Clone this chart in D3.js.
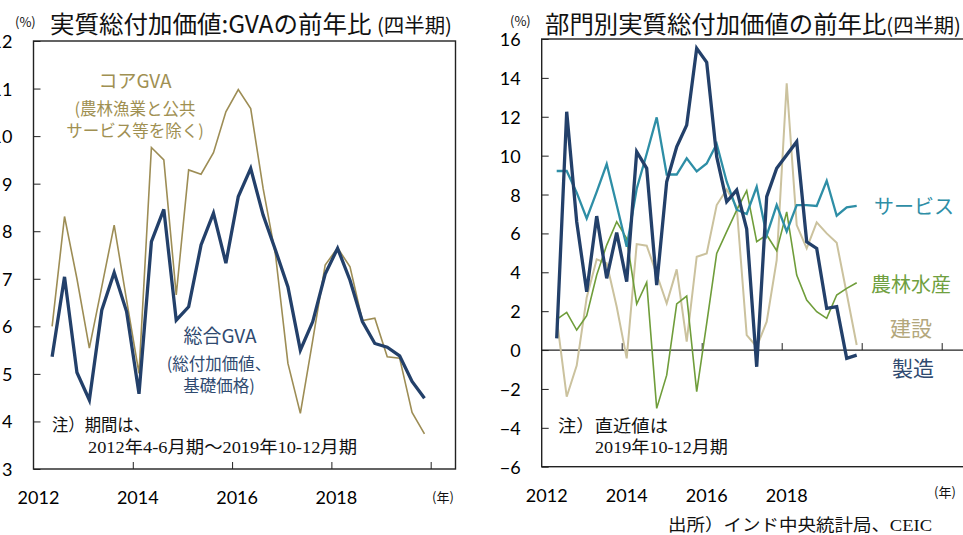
<!DOCTYPE html>
<html lang="ja">
<head>
<meta charset="utf-8">
<title>India GVA</title>
<script src="https://cdn.jsdelivr.net/npm/d3@7"></script>
<style>
  body { margin: 0; background: #fff; }
  svg { display: block; }
</style>
</head>
<body>
<script>
// data: 2012Q2 .. 2019Q4
var quarters = ["2012Q2","2012Q3","2012Q4",
  "2013Q1","2013Q2","2013Q3","2013Q4",
  "2014Q1","2014Q2","2014Q3","2014Q4",
  "2015Q1","2015Q2","2015Q3","2015Q4",
  "2016Q1","2016Q2","2016Q3","2016Q4",
  "2017Q1","2017Q2","2017Q3","2017Q4",
  "2018Q1","2018Q2","2018Q3","2018Q4",
  "2019Q1","2019Q2","2019Q3","2019Q4"];

// left panel
var gvaTotal = [5.36, 7.04, 5.03, 4.45, 6.34, 7.13, 6.31, 4.58, 7.78, 8.46, 6.13, 6.41, 7.71, 8.38, 7.33, 8.73,
  9.32, 8.34, 7.6, 6.83, 5.5, 6.1, 7.1, 7.64, 6.97, 6.1, 5.64, 5.56, 5.38, 4.84, 4.49];
var gvaCore = [6.0, 8.31, 7.0, 5.54, 6.83, 8.13, 6.55, 5.01, 9.76, 9.5, 6.66, 9.29, 9.2, 9.65, 10.51, 10.98,
  10.58, 8.9, 7.5, 5.22, 4.17, 5.71, 7.29, 7.65, 7.25, 6.12, 6.17, 5.36, 5.33, 4.19, 3.74];

// right panel
var manufacturing = [0.6, 12.26, 6.6, 3.0, 6.89, 3.69, 6.04, 3.52, 10.2, 9.35, 3.34, 8.66, 10.46, 11.57, 15.52, 14.8,
  9.94, 7.63, 8.23, 6.22, -0.86, 7.89, 9.35, 10.03, 10.72, 5.57, 5.23, 2.14, 2.23, -0.43, -0.26];
var services = [9.21, 9.21, 8.1, 6.77, 8.14, 9.57, 7.46, 5.31, 8.3, 10.1, 11.97, 9.03, 9.03, 9.86, 9.19, 9.6,
  10.6, 8.66, 7.22, 7.0, 8.4, 5.9, 7.46, 6.1, 7.46, 7.46, 7.41, 8.71, 6.91, 7.34, 7.42];
var agriculture = [1.58, 1.94, 1.03, 1.77, 3.86, 5.4, 6.6, 5.74, 2.37, 3.48, -3.0, -1.29, 2.37, 2.78, -2.14, 1.37,
  4.97, 6.09, 7.2, 8.2, 5.57, 5.92, 5.11, 7.11, 3.86, 2.57, 1.97, 1.63, 2.83, 3.17, 3.46];
var construction = [1.63, -2.4, -0.8, 2.7, 4.67, 4.46, 2.23, -0.43, 5.45, 5.37, 3.9, 2.4, 4.15, 0.43, 4.8, 4.97,
  7.46, 8.26, 7.37, 0.77, 0.17, 1.46, 4.63, 13.72, 6.43, 5.23, 6.57, 6.0, 5.52, 2.91, 0.26];

var leftTicksY = [3, 4, 5, 6, 7, 8, 9, 10, 11, 12];
var rightTicksY = [-6, -4, -2, 0, 2, 4, 6, 8, 10, 12, 14, 16];
var yearLabels = [2012, 2014, 2016, 2018];

var navy = "#23406a", olive = "#9d8d55", teal = "#2e8ea6", green = "#6f9d3a", beige = "#cbc29e";
var jp = "'Noto Sans CJK JP', sans-serif";
var num = "Lato, 'Noto Sans', sans-serif";
var serif = "'Liberation Serif', 'Noto Sans CJK JP', serif";

// quarter -> decimal year at middle of quarter
function qx(s) {
  var y = +s.slice(0, 4), q = +s.slice(5);
  return y + (q - 0.5) / 4;
}

var svg = d3.select("body").append("svg")
  .attr("width", 963).attr("height", 535);

svg.append("rect").attr("width", 963).attr("height", 535).attr("fill", "#fff");

function panel(opt) {
  var x = d3.scaleLinear().domain(opt.xDomain).range(opt.xRange);
  var y = d3.scaleLinear().domain(opt.yDomain).range(opt.yRange);
  var g = svg.append("g");

  // y axis, inward ticks
  var ya = g.append("g")
    .attr("transform", "translate(" + opt.xRange[0] + ",0)")
    .call(d3.axisLeft(y).tickValues(opt.yTicks).tickSizeInner(-7).tickSizeOuter(0).tickPadding(21));
  ya.select(".domain").remove();
  ya.selectAll("line").attr("stroke", "#222");
  ya.selectAll("text").attr("font-family", num).attr("font-size", 18).attr("fill", "#000")
    .attr("dy", "0.36em");

  // x ticks, upward
  var xa = g.append("g")
    .attr("transform", "translate(0," + y(opt.xTickBase) + ")")
    .call(d3.axisBottom(x).tickValues(opt.xTicks).tickSizeInner(-7).tickSizeOuter(0).tickFormat(""));
  xa.select(".domain").remove();
  xa.selectAll("line").attr("stroke", "#222");

  if (opt.zeroLine) {
    g.append("line")
      .attr("x1", opt.xRange[0]).attr("x2", opt.xRange[1])
      .attr("y1", y(0)).attr("y2", y(0))
      .attr("stroke", "#222").attr("stroke-width", 1.3);
  }

  // year labels
  g.selectAll(".yr").data(yearLabels).enter().append("text")
    .attr("x", function(d) { return x(d) + 5; })
    .attr("y", opt.yearY)
    .attr("text-anchor", "middle")
    .attr("font-family", num).attr("font-size", 18).attr("fill", "#000")
    .text(function(d) { return d; });

  var line = d3.line()
    .x(function(d, i) { return x(qx(quarters[i])); })
    .y(function(d) { return y(d); });

  opt.series.forEach(function(s) {
    g.append("path").datum(s.values)
      .attr("d", line)
      .attr("fill", "none")
      .attr("stroke", s.color)
      .attr("stroke-width", s.width)
      .attr("stroke-linejoin", "miter");
  });

  // frame
  g.append("rect")
    .attr("x", opt.xRange[0]).attr("y", opt.yRange[1])
    .attr("width", opt.xRange[1] - opt.xRange[0])
    .attr("height", opt.yRange[0] - opt.yRange[1])
    .attr("fill", "none").attr("stroke", "#222").attr("stroke-width", 1.4);

  return g;
}

panel({
  xDomain: [2012, 2020.5], xRange: [33.5, 455.5],
  yDomain: [3, 12], yRange: [469, 41],
  yTicks: leftTicksY, xTicks: [2014, 2016, 2018, 2020], xTickBase: 3,
  yearY: 504,
  series: [
    { values: gvaCore, color: olive, width: 1.6 },
    { values: gvaTotal, color: navy, width: 3.3 }
  ]
});

panel({
  xDomain: [2012, 2022.6], xRange: [541.7, 965.7],
  yDomain: [-6, 16], yRange: [466.7, 39],
  yTicks: rightTicksY, xTicks: [2014, 2016, 2018, 2020, 2022], xTickBase: 0,
  zeroLine: true,
  yearY: 502,
  series: [
    { values: construction, color: beige, width: 2 },
    { values: agriculture, color: green, width: 1.6 },
    { values: services, color: teal, width: 2.3 },
    { values: manufacturing, color: navy, width: 3.3 }
  ]
});

// titles
function title(xp, main, sub, len) {
  var t = svg.append("text").attr("x", xp).attr("y", 33)
    .attr("font-family", jp).attr("fill", "#111")
    .attr("textLength", len).attr("lengthAdjust", "spacingAndGlyphs");
  t.append("tspan").attr("font-size", 24).text(main);
  t.append("tspan").attr("font-size", 20).text(sub);
}
title(50, "実質総付加価値:GVAの前年比 ", "(四半期)", 402);
title(545, "部門別実質総付加価値の前年比", "(四半期)", 416);

svg.append("text").attr("x", 15).attr("y", 27).attr("font-family", jp).attr("font-size", 13)
  .attr("fill", "#111").text("(%)");
svg.append("text").attr("x", 510).attr("y", 26).attr("font-family", jp).attr("font-size", 13)
  .attr("fill", "#111").text("(%)");

svg.append("text").attr("x", 432).attr("y", 502).attr("font-family", jp).attr("font-size", 13)
  .attr("fill", "#111").text("(年)");
svg.append("text").attr("x", 934).attr("y", 497).attr("font-family", jp).attr("font-size", 13)
  .attr("fill", "#111").text("(年)");

// series labels
function label(lines, xp, y0, step, color, size) {
  lines.forEach(function(s, i) {
    svg.append("text").attr("x", xp).attr("y", y0 + i * step)
      .attr("text-anchor", "middle").attr("font-family", jp).attr("font-size", size)
      .attr("fill", color).text(s);
  });
}
label(["コアGVA"], 135, 88, 0, "#a09052", 19);
label(["(農林漁業と公共", "サービス等を除く)"], 135, 115, 22, "#a09052", 16.5);
label(["総合GVA"], 220, 343, 0, "#2f4a70", 19);
label(["(総付加価値、", "基礎価格)"], 219, 370, 22, "#2f4a70", 16.5);

label(["サービス"], 914, 214, 0, teal, 20);
label(["農林水産"], 911, 292, 0, "#70a040", 20);
label(["建設"], 911, 336, 0, "#b3a77c", 21);
label(["製造"], 913, 376, 0, "#2f4a70", 21);

// notes
function note(s, xp, yp, len) {
  svg.append("text").attr("x", xp).attr("y", yp)
    .attr("font-family", serif).attr("font-size", 17).attr("fill", "#111")
    .attr("textLength", len).attr("lengthAdjust", "spacingAndGlyphs")
    .text(s);
}
note("注）期間は、", 52, 431, 98);
note("2012年4-6月期～2019年10-12月期", 88, 453, 269);
note("注）直近値は", 558, 432, 110);
note("2019年10-12月期", 595, 453, 133);

svg.append("text").attr("x", 668).attr("y", 531)
  .attr("font-family", serif).attr("font-size", 17).attr("fill", "#111")
  .attr("textLength", 264).attr("lengthAdjust", "spacingAndGlyphs")
  .text("出所）インド中央統計局、CEIC");
</script>
</body>
</html>
